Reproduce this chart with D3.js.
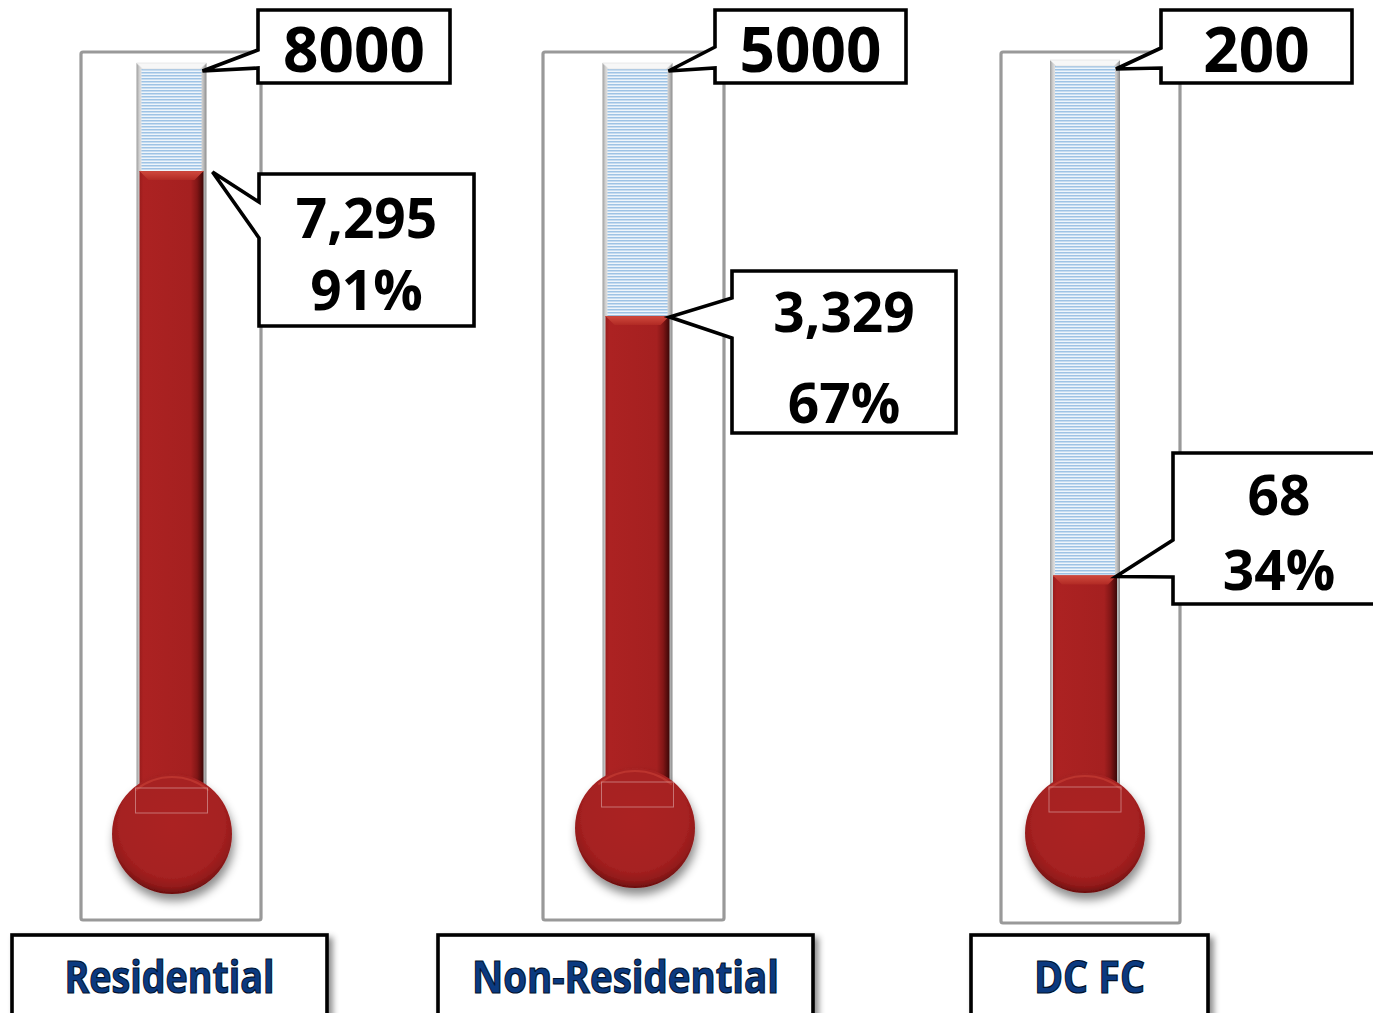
<!DOCTYPE html>
<html>
<head>
<meta charset="utf-8">
<script src="https://cdn.jsdelivr.net/npm/d3@7"></script>
<style>
  html, body { margin: 0; padding: 0; background: #fff; }
  svg { display: block; }
</style>
</head>
<body>
<div id="chart"></div>
<script>
// Goal thermometers: target, current total and progress for each charger program
const categories = ["Residential", "Non-Residential", "DC FC"];
const targets = [8000, 5000, 200];
const actuals = [7295, 3329, 68];
// lower end of each thermometer's value axis
const axisMin = [3000, 0, 0];

// Placement of each thermometer panel and its callouts
const layout = [
  { frame: [81, 52, 180, 868], cx: 171.5, tubeTop: 63, yTop: 66, yBase: 811, bulb: [172, 834],
    tBox: [258, 10, 192, 73], tAttach: [50, 68],
    vBox: [259, 174, 215, 152], vAttach: [202, 238], vTipDx: 6, vLines: [238, 310],
    cBox: [12, 935, 315, 100], cText: 210 },
  { frame: [543, 52, 181, 868], cx: 637.5, tubeTop: 63, yTop: 66, yBase: 814, bulb: [635, 828],
    tBox: [715, 10, 191, 73], tAttach: [47, 68],
    vBox: [732, 271, 224, 162], vAttach: [298, 338], vTipDx: -3, vLines: [332, 423],
    cBox: [438, 935, 375, 100], cText: 307 },
  { frame: [1001, 52, 179, 871], cx: 1085, tubeTop: 60, yTop: 64, yBase: 839, bulb: [1085, 833],
    tBox: [1161, 10, 191, 73], tAttach: [48, 68],
    vBox: [1173, 453, 212, 151], vAttach: [540, 577], vTipDx: -4, vLines: [515, 590],
    cBox: [971, 935, 237, 100], cText: 111 }
];

const W = 1373, H = 1013;
const tubeW = 70, bulbR = 60;

const svg = d3.select("#chart").append("svg")
  .attr("width", W).attr("height", H)
  .attr("viewBox", `0 0 ${W} ${H}`);

const defs = svg.append("defs");

// glass of the tube
const glass = defs.append("linearGradient").attr("id", "glass").attr("x1", 0).attr("x2", 1).attr("y1", 0).attr("y2", 0);
[[0, "#9c9c9c"], [0.04, "#cfcfcf"], [0.1, "#f2f2f2"], [0.88, "#eeeeee"], [0.95, "#c4c4c4"], [1, "#8c8c8c"]]
  .forEach(([o, c]) => glass.append("stop").attr("offset", o).attr("stop-color", c));

// horizontal blue ruling inside the empty part of the tube
const pat = defs.append("pattern").attr("id", "ruling").attr("patternUnits", "userSpaceOnUse")
  .attr("width", 8).attr("height", 3);
pat.append("rect").attr("width", 8).attr("height", 3).attr("fill", "#eef5fb");
pat.append("rect").attr("width", 8).attr("height", 1.5).attr("fill", "#9ec3e5");

// mercury column
const merc = defs.append("linearGradient").attr("id", "merc").attr("x1", 0).attr("x2", 1).attr("y1", 0).attr("y2", 0);
[[0, "#9a1c1c"], [0.06, "#ac2222"], [0.8, "#a52020"], [0.9, "#821616"], [1, "#3c0707"]]
  .forEach(([o, c]) => merc.append("stop").attr("offset", o).attr("stop-color", c));

const bevel = defs.append("linearGradient").attr("id", "bevel").attr("x1", 0).attr("x2", 0).attr("y1", 0).attr("y2", 1);
[[0, "#d04a3e"], [1, "#b12a24"]].forEach(([o, c]) => bevel.append("stop").attr("offset", o).attr("stop-color", c));

// bulb
const bulbG = defs.append("radialGradient").attr("id", "bulbG").attr("cx", "50%").attr("cy", "42%").attr("r", "58%");
[[0, "#ab2323"], [0.75, "#a62121"], [0.9, "#921a1a"], [1, "#6a0e0e"]]
  .forEach(([o, c]) => bulbG.append("stop").attr("offset", o).attr("stop-color", c));

const sh = defs.append("filter").attr("id", "bulbShadow").attr("x", "-30%").attr("y", "-30%").attr("width", "160%").attr("height", "170%");
sh.append("feDropShadow").attr("dx", 2).attr("dy", 7).attr("stdDeviation", 5)
  .attr("flood-color", "#000").attr("flood-opacity", 0.45);

const bsh = defs.append("filter").attr("id", "boxShadow").attr("x", "-10%").attr("y", "-20%").attr("width", "130%").attr("height", "150%");
bsh.append("feDropShadow").attr("dx", 4).attr("dy", 4).attr("stdDeviation", 3)
  .attr("flood-color", "#000").attr("flood-opacity", 0.45);

const fmt = d3.format(",");
const valueFont = "'Open Sans', 'DejaVu Sans', sans-serif";

const panels = categories.map((c, i) => ({
  category: c, target: targets[i], actual: actuals[i], min: axisMin[i], L: layout[i],
  y: d3.scaleLinear().domain([axisMin[i], targets[i]]).range([layout[i].yBase, layout[i].yTop])
}));

// frames
svg.append("g").selectAll("rect").data(panels).join("rect")
  .attr("x", d => d.L.frame[0]).attr("y", d => d.L.frame[1])
  .attr("width", d => d.L.frame[2]).attr("height", d => d.L.frame[3])
  .attr("rx", 2)
  .attr("fill", "#fff").attr("stroke", "#999").attr("stroke-width", 3.2);

const therm = svg.append("g").selectAll("g").data(panels).join("g");

// tube glass
therm.append("rect")
  .attr("x", d => d.L.cx - tubeW / 2).attr("y", d => d.L.tubeTop)
  .attr("width", tubeW).attr("height", d => d.L.bulb[1] - d.L.tubeTop)
  .attr("fill", "url(#glass)");
therm.append("rect")
  .attr("x", d => d.L.cx - tubeW / 2 + 5).attr("y", d => d.L.tubeTop + 6)
  .attr("width", tubeW - 10).attr("height", d => d.L.bulb[1] - d.L.tubeTop - 6)
  .attr("fill", "url(#ruling)");
// bevelled glass cap
therm.append("path")
  .attr("d", d => {
    const x0 = d.L.cx - tubeW / 2, x1 = d.L.cx + tubeW / 2, t = d.L.tubeTop;
    return `M${x0},${t} L${x1},${t} L${x1 - 6},${t + 6} L${x0 + 6},${t + 6} Z`;
  })
  .attr("fill", "#f7f7f7").attr("stroke", "#dedede").attr("stroke-width", 0.6);

// mercury column, from the actual value down into the bulb
const colW = 64;
therm.append("rect")
  .attr("x", d => d.L.cx - colW / 2).attr("y", d => d.y(d.actual))
  .attr("width", colW).attr("height", d => d.L.bulb[1] - d.y(d.actual))
  .attr("fill", "url(#merc)");
therm.append("path")
  .attr("d", d => {
    const x0 = d.L.cx - colW / 2, x1 = d.L.cx + colW / 2, t = d.y(d.actual);
    return `M${x0},${t} L${x1},${t} L${x1 - 9},${t + 9} L${x0 + 9},${t + 9} Z`;
  })
  .attr("fill", "url(#bevel)");
therm.append("line")
  .attr("x1", d => d.L.cx - colW / 2).attr("x2", d => d.L.cx + colW / 2)
  .attr("y1", d => d.y(d.actual) + 0.5).attr("y2", d => d.y(d.actual) + 0.5)
  .attr("stroke", "#c9453a").attr("stroke-width", 1);

// bulb
therm.append("circle")
  .attr("cx", d => d.L.bulb[0]).attr("cy", d => d.L.bulb[1]).attr("r", bulbR)
  .attr("fill", "url(#bulbG)").attr("filter", "url(#bulbShadow)");
therm.append("path")
  .attr("d", d => {
    const [bx, by] = d.L.bulb, r = bulbR - 3;
    const a0 = -Math.PI / 2 - 0.7, a1 = -Math.PI / 2 + 0.7;
    return `M${bx + r * Math.cos(a0)},${by + r * Math.sin(a0)} A${r},${r} 0 0 1 ${bx + r * Math.cos(a1)},${by + r * Math.sin(a1)}`;
  })
  .attr("fill", "none").attr("stroke", "#c43c33").attr("stroke-width", 2).attr("stroke-opacity", 0.7);
therm.append("rect")
  .attr("x", d => d.L.cx - 36).attr("y", d => d.L.bulb[1] - 46)
  .attr("width", 72).attr("height", 25)
  .attr("fill", "none").attr("stroke", "#e8c4c4").attr("stroke-opacity", 0.5).attr("stroke-width", 1);

// callout path: rectangle with a pointer leaving its left edge
function callout(box, attach, tip) {
  const [x, y, w, h] = box;
  return `M${x},${y} L${x + w},${y} L${x + w},${y + h} L${x},${y + h} L${x},${attach[1]} L${tip[0]},${tip[1]} L${x},${attach[0]} Z`;
}

const calls = svg.append("g").selectAll("g").data(panels).join("g");

// target callouts
calls.append("path")
  .attr("d", d => callout(d.L.tBox, d.L.tAttach, [d.L.cx + tubeW / 2 - 4, d.y(d.target) + 5]))
  .attr("fill", "#fff").attr("stroke", "#000").attr("stroke-width", 3.6).attr("stroke-linejoin", "miter");
calls.append("text")
  .attr("x", d => d.L.tBox[0] + d.L.tBox[2] / 2).attr("y", 72)
  .attr("text-anchor", "middle")
  .attr("font-family", valueFont).attr("font-weight", 700).attr("font-size", 62)
  .attr("fill", "#000")
  .text(d => String(d.target));

// current value callouts
calls.append("path")
  .attr("d", d => callout(d.L.vBox, d.L.vAttach, [d.L.cx + tubeW / 2 + d.L.vTipDx, d.y(d.actual) + 1]))
  .attr("fill", "#fff").attr("stroke", "#000").attr("stroke-width", 3.6).attr("stroke-linejoin", "miter");
calls.append("text")
  .attr("x", d => d.L.vBox[0] + d.L.vBox[2] / 2).attr("y", d => d.L.vLines[0])
  .attr("text-anchor", "middle")
  .attr("font-family", valueFont).attr("font-weight", 700).attr("font-size", 55)
  .text(d => fmt(d.actual));
calls.append("text")
  .attr("x", d => d.L.vBox[0] + d.L.vBox[2] / 2).attr("y", d => d.L.vLines[1])
  .attr("text-anchor", "middle")
  .attr("font-family", valueFont).attr("font-weight", 700).attr("font-size", 55)
  .text(d => Math.round(d.actual / d.target * 100) + "%");

// category labels
const cats = svg.append("g").selectAll("g").data(panels).join("g");
cats.append("rect")
  .attr("x", d => d.L.cBox[0]).attr("y", d => d.L.cBox[1])
  .attr("width", d => d.L.cBox[2]).attr("height", d => d.L.cBox[3])
  .attr("fill", "#fff").attr("stroke", "#000").attr("stroke-width", 3.6)
  .attr("filter", "url(#boxShadow)");
cats.append("text")
  .attr("x", d => d.L.cBox[0] + d.L.cBox[2] / 2).attr("y", 993)
  .attr("text-anchor", "middle")
  .attr("font-family", valueFont).attr("font-weight", 700).attr("font-size", 45)
  .attr("textLength", d => d.L.cText).attr("lengthAdjust", "spacingAndGlyphs")
  .attr("fill", "#0b3a80").attr("stroke", "#00112e").attr("stroke-width", 1.2)
  .text(d => d.category);
</script>
</body>
</html>
